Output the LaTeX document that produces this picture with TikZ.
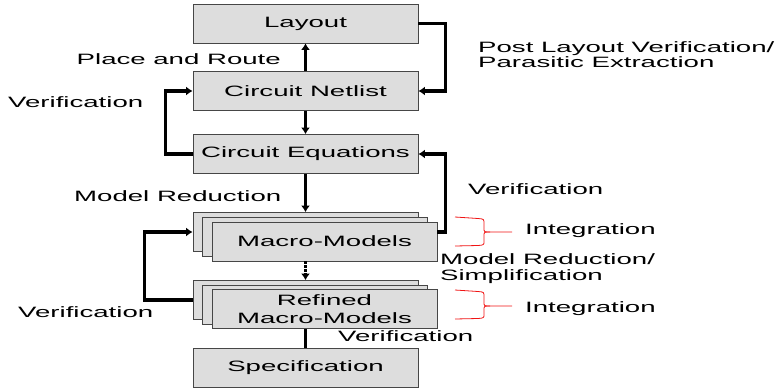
\documentclass[tikz,border=0pt]{standalone}
\usepackage{fontspec}
\setmainfont{Liberation Sans}
\usepackage{graphicx}
\usetikzlibrary{arrows.meta}
\newcommand\wide[1]{\scalebox{1.84}[1]{#1}}
\definecolor{boxgray}{RGB}{221,221,221}
\definecolor{boxline}{RGB}{70,70,70}
\definecolor{bracered}{RGB}{240,20,20}
\tikzset{
  box/.style={draw=boxline, line width=0.8pt, fill=boxgray, minimum width=225pt, minimum height=39pt, inner sep=0pt, font=\fontsize{15}{17}\selectfont, align=center},
  lbl/.style={inner sep=0pt, font=\fontsize{15}{16}\selectfont, align=left},
  conn/.style={line width=3.4pt, -{Latex[length=6.5pt,width=9pt]}},
  plain/.style={line width=3.4pt},
  brace/.style={draw=bracered, line width=0.8pt}
}
\begin{document}
\begin{tikzpicture}[x=1pt,y=-1pt]
\useasboundingbox (0,0) rectangle (778,388);
% boxes
\node[box] (layout) at (305.5,23.5) {\wide{Layout}};
\node[box] (netlist) at (305.5,91) {\wide{Circuit Netlist}};
\node[box] (equations) at (305.5,154) {\wide{Circuit Equations}};
\node[box] (mback) at (305.5,232) {};
\node[box] (mmid) at (315,237) {};
\node[box] (mfront) at (324.5,241.5) {\wide{Macro-Models}};
\node[box] (rback) at (305.5,300) {};
\node[box] (rmid) at (315,304.5) {};
\node[box] (rfront) at (324.5,309) {\wide{Refined}\\[1pt]\wide{Macro-Models}};
\node[box] (spec) at (305.5,367.5) {\wide{Specification}};
% connectors
\draw[conn] (netlist.north) -- (layout.south);
\draw[conn] (layout.east) -- ++(27,0) |- (netlist.east);
\draw[conn] (netlist.south) -- (equations.north);
\draw[conn] (equations.west) -- ++(-27,0) |- (netlist.west);
\draw[conn] (equations.south) -- (mback.north);
\draw[conn] (mfront.east |- mback.east) -- ++(8,0) |- (equations.east);
\draw[conn, dash pattern=on 2.5pt off 1.5pt] (mback.center |- mfront.south) -- (rback.north);
\draw[conn] (rback.west) -- ++(-48,0) |- (mback.west);
\draw[plain] (rback.center |- rfront.south) -- (spec.north);
% braces
\draw[brace] (455,217) -- (478,218.5) .. controls (484,219) .. (484,224) -- (484,228) .. controls (484,232) .. (490,232) -- (512,232);
\draw[brace] (490,232) .. controls (484,232) .. (484,236) -- (484,241) .. controls (484,245) .. (478,245.5) -- (455,246);
\draw[brace] (455,290) -- (478,291.5) .. controls (484,292) .. (484,297) -- (484,302) .. controls (484,306) .. (490,306) -- (512,306);
\draw[brace] (490,306) .. controls (484,306) .. (484,310) -- (484,314) .. controls (484,318) .. (478,318.5) -- (455,319);
% labels
\node[lbl, anchor=base east] (lpr) at (281,64) {\wide{Place and Route}};
\node[lbl, anchor=base west] (lpost) at (478,52) {\wide{Post Layout Verification/}};
\node[lbl, anchor=base west] (lpara) at (478,67) {\wide{Parasitic Extraction}};
\node[lbl, anchor=base west] (lver1) at (8,107) {\wide{Verification}};
\node[lbl, anchor=base west] (lmr) at (74,201) {\wide{Model Reduction}};
\node[lbl, anchor=base west] (lver2) at (468,194) {\wide{Verification}};
\node[lbl, anchor=base west] (lint1) at (525,234) {\wide{Integration}};
\node[lbl, anchor=base west] (lmrs) at (440,264) {\wide{Model Reduction/}};
\node[lbl, anchor=base west] (lsimp) at (440,280) {\wide{Simplification}};
\node[lbl, anchor=base west] (lint2) at (525,312) {\wide{Integration}};
\node[lbl, anchor=base west] (lver3) at (18,317) {\wide{Verification}};
\node[lbl, anchor=base west] (lver4) at (338,341) {\wide{Verification}};
\end{tikzpicture}
\end{document}
